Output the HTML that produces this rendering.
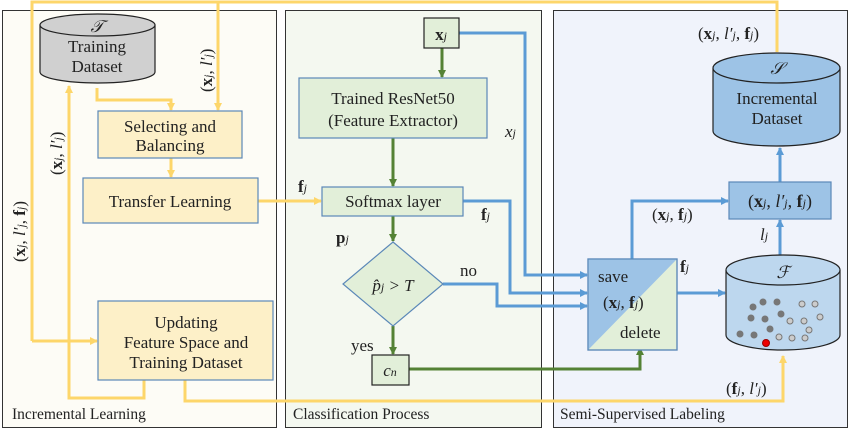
<!DOCTYPE html>
<html><head><meta charset="utf-8"><style>
html,body{margin:0;padding:0;background:#fff}
svg, svg text{font-family:"Liberation Serif","DejaVu Serif",serif}
</style></head><body>
<svg width="861" height="431" viewBox="0 0 861 431" xmlns="http://www.w3.org/2000/svg" font-family="Liberation Serif, serif">
<defs>
<marker id="ay" markerWidth="8" markerHeight="8" refX="7" refY="4" orient="auto" markerUnits="userSpaceOnUse"><path d="M0,0 L8,4 L0,8 z" fill="#fdd66a"/></marker>
<marker id="ab" markerWidth="8" markerHeight="8" refX="7" refY="4" orient="auto" markerUnits="userSpaceOnUse"><path d="M0,0 L8,4 L0,8 z" fill="#5b9bd5"/></marker>
<marker id="ag" markerWidth="8" markerHeight="8" refX="7" refY="4" orient="auto" markerUnits="userSpaceOnUse"><path d="M0,0 L8,4 L0,8 z" fill="#548235"/></marker>
</defs>
<rect x="2.5" y="10.5" width="274" height="417" fill="#fdfcf6" stroke="#333"/>
<rect x="285.5" y="10.5" width="256" height="417" fill="#f4f8f0" stroke="#333"/>
<rect x="553.5" y="10.5" width="294" height="417" fill="#f0f3fb" stroke="#333"/>
<g font-size="15.5" fill="#222" font-family="Liberation Serif, serif">
<text x="12" y="419">Incremental Learning</text>
<text x="293" y="419">Classification Process</text>
<text x="560" y="419">Semi-Supervised Labeling</text>
</g>
<g fill="none" stroke="#fdd66a" stroke-width="3">
<path d="M32,341 L32,2 L777,2 L777,52"/>
<path d="M218,2 L218,110" marker-end="url(#ay)"/>
<path d="M32,341 L97,341" marker-end="url(#ay)"/>
<path d="M97,88 L97,100 L171,100 L171,110" marker-end="url(#ay)"/>
<path d="M171,158 L171,177" marker-end="url(#ay)"/>
<path d="M258,201 L321,201" marker-end="url(#ay)"/>
<path d="M144,380 L144,398 L69,398 L69,86" marker-end="url(#ay)"/>
<path d="M185,380 L185,401 L783,401 L783,356" marker-end="url(#ay)"/>
</g>
<path d="M40,25 L40,72 A57.5,11 0 0 0 155,72 L155,25" fill="#d0d0d0" stroke="#222" stroke-width="1.2"/>
<ellipse cx="97.5" cy="25" rx="57.5" ry="11" fill="#d0d0d0" stroke="#222" stroke-width="1.2"/>
<g font-size="17" fill="#222" text-anchor="middle" font-family="Liberation Serif, serif">
<text x="97" y="32" font-style="italic">𝒯</text>
<text x="97" y="52">Training</text>
<text x="97" y="72">Dataset</text>
</g>
<g fill="#fdf0c8" stroke="#5b88b8" stroke-width="1.2">
<rect x="98" y="111" width="144" height="47"/>
<rect x="83" y="178" width="175" height="45"/>
<rect x="98" y="301" width="175" height="79"/>
</g>
<g font-size="17" fill="#222" text-anchor="middle" font-family="Liberation Serif, serif">
<text x="170" y="132">Selecting and</text>
<text x="170" y="151">Balancing</text>
<text x="170" y="207">Transfer Learning</text>
<text x="186" y="328">Updating</text>
<text x="186" y="348">Feature Space and</text>
<text x="186" y="368">Training Dataset</text>
</g>
<g font-size="17" fill="#222" font-family="Liberation Serif, serif">
<text transform="translate(212,92) rotate(-90)">(<tspan font-weight="bold">x</tspan><tspan font-style="italic" font-size="12">j</tspan>, <tspan font-style="italic">l′</tspan><tspan font-style="italic" font-size="12">j</tspan>)</text>
<text transform="translate(62,175) rotate(-90)">(<tspan font-weight="bold">x</tspan><tspan font-style="italic" font-size="12">j</tspan>, <tspan font-style="italic">l′</tspan><tspan font-style="italic" font-size="12">j</tspan>)</text>
<text transform="translate(25,262) rotate(-90)">(<tspan font-weight="bold">x</tspan><tspan font-style="italic" font-size="12">j</tspan>, <tspan font-style="italic">l′</tspan><tspan font-style="italic" font-size="12">j</tspan>, <tspan font-weight="bold">f</tspan><tspan font-style="italic" font-size="12">j</tspan>)</text>
<text x="298" y="192" font-weight="bold">f<tspan font-style="italic" font-size="12" font-weight="normal">j</tspan></text>
</g>
<g fill="none" stroke="#5b9bd5" stroke-width="3">
<path d="M459,33 L525,33 L525,275 L587,275" marker-end="url(#ab)"/>
<path d="M463,201 L510,201 L510,293 L587,293" marker-end="url(#ab)"/>
<path d="M443,284 L497,284 L497,306 L587,306" marker-end="url(#ab)"/>
<path d="M677,293 L725,293" marker-end="url(#ab)"/>
<path d="M632,259 L632,201 L728,201" marker-end="url(#ab)"/>
<path d="M780,256 L780,220" marker-end="url(#ab)"/>
<path d="M780,182 L780,148" marker-end="url(#ab)"/>
</g>
<g fill="none" stroke="#548235" stroke-width="3">
<path d="M442,48 L442,77" marker-end="url(#ag)"/>
<path d="M393,138 L393,186" marker-end="url(#ag)"/>
<path d="M393,216 L393,241" marker-end="url(#ag)"/>
<path d="M393,326 L393,354" marker-end="url(#ag)"/>
<path d="M409,369 L640,369 L640,348" marker-end="url(#ag)"/>
</g>
<g fill="#e2efd9" stroke-width="1.2">
<rect x="424" y="18" width="35" height="30" stroke="#222"/>
<rect x="299" y="78" width="188" height="60" stroke="#5b88b8"/>
<rect x="322" y="187" width="141" height="29" stroke="#5b88b8"/>
<path d="M393,242 L443,284 L393,326 L343,284 z" stroke="#5b88b8"/>
<rect x="372" y="355" width="37" height="30" stroke="#222"/>
</g>
<g font-size="17" fill="#222" text-anchor="middle" font-family="Liberation Serif, serif">
<text x="441" y="40" font-weight="bold">x<tspan font-style="italic" font-size="12" font-weight="normal">j</tspan></text>
<text x="393" y="104">Trained ResNet50</text>
<text x="393" y="126">(Feature Extractor)</text>
<text x="393" y="207">Softmax layer</text>
<text x="393" y="291" font-style="italic">p̂<tspan font-size="12">j</tspan> &gt; T</text>
<text x="390" y="376" font-style="italic">c<tspan font-size="12">n</tspan></text>
</g>
<g font-size="17" fill="#222" font-family="Liberation Serif, serif">
<text x="505" y="137" font-style="italic">x<tspan font-size="12">j</tspan></text>
<text x="481" y="220" font-weight="bold">f<tspan font-style="italic" font-size="12" font-weight="normal">j</tspan></text>
<text x="336" y="243" font-weight="bold">p<tspan font-style="italic" font-size="12" font-weight="normal">j</tspan></text>
<text x="460" y="276">no</text>
<text x="351" y="351">yes</text>
</g>
<rect x="588" y="259" width="89" height="91" fill="#e2efd9" stroke="#5b88b8" stroke-width="1.2"/>
<path d="M588,259 L677,259 L588,350 z" fill="#9dc3e6"/>
<rect x="588" y="259" width="89" height="91" fill="none" stroke="#5b88b8" stroke-width="1.2"/>
<g font-size="17" fill="#222" font-family="Liberation Serif, serif">
<text x="598" y="282">save</text>
<text x="603" y="308">(<tspan font-weight="bold">x</tspan><tspan font-style="italic" font-size="12">j</tspan>, <tspan font-weight="bold">f</tspan><tspan font-style="italic" font-size="12">j</tspan>)</text>
<text x="620" y="338">delete</text>
<text x="680" y="272" font-weight="bold">f<tspan font-style="italic" font-size="12" font-weight="normal">j</tspan></text>
<text x="652" y="220">(<tspan font-weight="bold">x</tspan><tspan font-style="italic" font-size="12">j</tspan>, <tspan font-weight="bold">f</tspan><tspan font-style="italic" font-size="12">j</tspan>)</text>
<text x="760" y="240" font-style="italic">l<tspan font-size="12">j</tspan></text>
<text x="698" y="39">(<tspan font-weight="bold">x</tspan><tspan font-style="italic" font-size="12">j</tspan>, <tspan font-style="italic">l′</tspan><tspan font-style="italic" font-size="12">j</tspan>, <tspan font-weight="bold">f</tspan><tspan font-style="italic" font-size="12">j</tspan>)</text>
<text x="726" y="394">(<tspan font-weight="bold">f</tspan><tspan font-style="italic" font-size="12">j</tspan>, <tspan font-style="italic">l′</tspan><tspan font-style="italic" font-size="12">j</tspan>)</text>
</g>
<rect x="729" y="182" width="102" height="37" fill="#9dc3e6" stroke="#5b88b8" stroke-width="1.2"/>
<text x="780" y="207" font-size="18" fill="#222" text-anchor="middle" font-family="Liberation Serif, serif">(<tspan font-weight="bold">x</tspan><tspan font-style="italic" font-size="12">j</tspan>, <tspan font-style="italic">l′</tspan><tspan font-style="italic" font-size="12">j</tspan>, <tspan font-weight="bold">f</tspan><tspan font-style="italic" font-size="12">j</tspan>)</text>
<path d="M713,68 L713,131 A63.5,15 0 0 0 840,131 L840,68" fill="#9dc3e6" stroke="#222" stroke-width="1.2"/>
<ellipse cx="776.5" cy="68" rx="63.5" ry="15" fill="#9dc3e6" stroke="#222" stroke-width="1.2"/>
<g font-size="17" fill="#222" text-anchor="middle" font-family="Liberation Serif, serif">
<text x="777" y="74" font-style="italic">𝒮</text>
<text x="777" y="104">Incremental</text>
<text x="777" y="124">Dataset</text>
</g>
<path d="M726,270 L726,335 A57,15 0 0 0 840,335 L840,270" fill="#bdd7ee" stroke="#222" stroke-width="1.2"/>
<ellipse cx="783" cy="270" rx="57" ry="15" fill="#bdd7ee" stroke="#222" stroke-width="1.2"/>
<text x="783" y="278" font-size="17" font-style="italic" fill="#222" text-anchor="middle" font-family="Liberation Serif, serif">ℱ</text>
<g fill="#777">
<circle cx="753" cy="307" r="3.5"/><circle cx="763" cy="302" r="3.5"/><circle cx="777" cy="302" r="3.5"/>
<circle cx="751" cy="318" r="3.5"/><circle cx="765" cy="319" r="3.5"/><circle cx="781" cy="314" r="3.5"/>
<circle cx="740" cy="334" r="3.5"/><circle cx="754" cy="335" r="3.5"/><circle cx="770" cy="329" r="3.5"/>
</g>
<g fill="#ccc" stroke="#777">
<circle cx="802" cy="304" r="3"/><circle cx="815" cy="304" r="3"/><circle cx="790" cy="321" r="3"/>
<circle cx="804" cy="321" r="3"/><circle cx="820" cy="317" r="3"/><circle cx="779" cy="337" r="3"/>
<circle cx="792" cy="338" r="3"/><circle cx="805" cy="338" r="3"/><circle cx="809" cy="330" r="3"/>
</g>
<circle cx="766" cy="343" r="3.5" fill="#e00" stroke="#900"/>
</svg>
</body></html>
